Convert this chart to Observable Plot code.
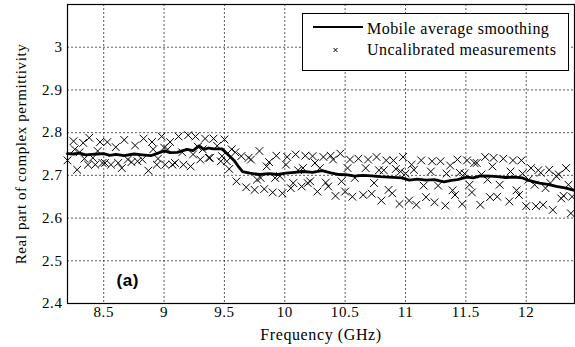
<!DOCTYPE html>
<html><head><meta charset="utf-8">
<script src="https://cdn.jsdelivr.net/npm/d3@7"></script>
<script src="https://cdn.jsdelivr.net/npm/@observablehq/plot@0.6"></script>
<style>
body{margin:0;background:#fff;}
#wrap{position:relative;width:575px;height:347px;overflow:hidden;}
#legend{position:absolute;left:302px;top:13px;width:267px;height:58px;border:1px solid #000;background:#fff;box-sizing:border-box;font-family:'Liberation Serif',serif;font-size:16px;letter-spacing:0.45px;color:#000;}
#legend .row{position:absolute;left:0;height:20px;line-height:20px;white-space:nowrap;}
#legend svg{position:absolute;left:0;top:0;}
#legend span{position:absolute;left:64px;top:0;}
</style></head><body><div id="wrap"></div>
<script>
// Uncalibrated measurements (frequency in GHz, real part of permittivity)
const measFreq = [8.20,8.25,8.26,8.28,8.30,8.33,8.34,8.37,8.38,8.41,8.43,8.45,8.47,8.49,8.51,8.53,8.56,8.60,8.62,8.65,8.67,8.70,8.73,8.76,8.78,8.82,8.83,8.87,
8.90,8.91,8.94,8.95,8.98,9.00,9.01,9.03,9.05,9.07,9.09,9.12,9.15,9.16,9.20,9.22,9.24,9.26,9.28,9.30,9.32,9.34,9.37,9.38,9.41,9.44,9.47,9.48,9.50,9.52,9.54,9.56,9.59,9.60,
9.64,9.68,9.70,9.72,9.75,9.77,9.79,9.80,9.83,9.85,9.87,9.90,9.92,9.93,9.96,9.98,10.01,10.02,10.05,10.07,10.09,10.11,10.14,10.15,10.17,10.19,10.21,10.23,10.25,10.27,10.29,
10.32,10.34,10.36,10.38,10.40,10.42,10.46,10.47,10.50,10.52,10.54,10.56,10.58,10.61,10.65,10.67,10.69,10.72,10.74,10.76,10.78,10.80,10.82,10.84,10.86,10.89,10.90,10.92,10.95,10.96,10.98,11.00,
11.03,11.05,11.07,11.09,11.13,11.15,11.17,11.21,11.22,11.24,11.27,11.29,11.33,11.34,11.37,11.39,11.41,11.43,11.45,11.47,11.49,11.51,11.53,11.55,11.57,11.59,11.62,11.63,11.66,11.68,11.70,11.72,11.73,
11.76,11.78,11.81,11.86,11.87,11.89,11.92,11.94,11.96,11.97,12.00,12.02,12.04,12.07,12.08,12.10,12.12,12.14,12.16,12.19,12.20,12.22,12.25,12.27,12.29,12.31,12.33,12.35,12.37,12.38];
const measVal = [2.735,2.780,2.761,2.713,2.754,2.776,2.739,2.725,2.788,2.741,2.725,2.757,2.778,2.729,2.729,2.778,2.725,2.766,2.729,2.717,2.783,2.737,2.731,2.770,2.733,2.737,2.786,2.711,
2.778,2.761,2.725,2.739,2.791,2.765,2.725,2.761,2.778,2.725,2.729,2.791,2.754,2.725,2.794,2.721,2.749,2.791,2.767,2.737,2.761,2.786,2.741,2.741,2.786,2.769,2.733,2.745,2.784,2.733,2.715,2.761,2.754,2.686,
2.745,2.672,2.741,2.737,2.666,2.690,2.757,2.694,2.668,2.721,2.731,2.660,2.694,2.746,2.698,2.658,2.725,2.743,2.670,2.682,2.749,2.712,2.674,2.717,2.746,2.682,2.686,2.745,2.729,2.662,2.717,
2.743,2.683,2.674,2.746,2.737,2.652,2.751,2.686,2.662,2.717,2.737,2.650,2.694,2.739,2.654,2.717,2.737,2.657,2.682,2.743,2.712,2.641,2.712,2.735,2.666,2.658,2.735,2.715,2.633,2.709,2.743,2.704,
2.641,2.725,2.713,2.631,2.735,2.676,2.649,2.709,2.733,2.637,2.676,2.733,2.629,2.704,2.723,2.665,2.654,2.737,2.706,2.633,2.704,2.735,2.678,2.660,2.729,2.729,2.631,2.702,2.743,2.690,2.649,2.721,2.741,
2.650,2.678,2.739,2.639,2.709,2.735,2.665,2.654,2.735,2.704,2.628,2.690,2.717,2.678,2.628,2.712,2.706,2.631,2.670,2.713,2.682,2.619,2.698,2.702,2.646,2.652,2.717,2.678,2.611,2.650];

// Mobile average smoothing
const smoothFreq = [8.20,8.25,8.30,8.35,8.40,8.45,8.50,8.55,8.60,8.67,8.75,8.82,8.89,8.95,9.00,9.05,9.11,9.19,9.24,9.29,9.33,9.37,9.41,9.48,9.52,9.58,9.61,9.65,9.71,9.79,9.87,9.94,10.01,10.08,10.15,10.23,10.31,10.38,10.45,10.52,10.58,10.65,10.72,10.79,10.86,10.97,11.03,11.10,11.17,11.24,11.32,11.38,11.43,11.51,11.56,11.62,11.70,11.76,11.83,11.90,11.97,12.02,12.11,12.18,12.25,12.33,12.40];
const smoothVal  = [2.751,2.750,2.752,2.748,2.749,2.750,2.751,2.747,2.749,2.746,2.750,2.748,2.746,2.752,2.757,2.753,2.754,2.761,2.758,2.769,2.761,2.764,2.762,2.762,2.751,2.735,2.723,2.709,2.705,2.702,2.704,2.702,2.705,2.707,2.709,2.707,2.711,2.706,2.702,2.701,2.698,2.700,2.699,2.697,2.696,2.694,2.689,2.691,2.689,2.690,2.685,2.688,2.690,2.696,2.694,2.699,2.698,2.697,2.695,2.696,2.694,2.688,2.682,2.679,2.674,2.670,2.665];

const xTicks = [8.5,9,9.5,10,10.5,11,11.5,12];
const xTickLabels = ["8.5","9","9.5","10","10.5","11","11.5","12"];
const yTicks = [2.4,2.5,2.6,2.7,2.8,2.9,3.0];
const yTickLabels = ["2.4","2.5","2.6","2.7","2.8","2.9","3"];
const xLabel = "Frequency (GHz)";
const yLabel = "Real part of complex permittivity";
const seriesNames = ["Mobile average smoothing","Uncalibrated measurements"];
const panelTag = "(a)";

const meas = measFreq.map((f,i)=>({f, v: measVal[i]}));
const smooth = smoothFreq.map((f,i)=>({f, v: smoothVal[i]}));

const serif = "'Liberation Serif', serif";
const grid = {stroke:"#333", strokeOpacity:0.8, strokeWidth:1, strokeDasharray:"2,2"};

const chart = Plot.plot({
  width:575, height:347,
  marginLeft:67, marginRight:1, marginTop:4, marginBottom:44,
  style:{fontFamily:serif, fontSize:"15px", letterSpacing:"0.6px", background:"#fff", color:"#000"},
  x:{domain:[8.2,12.4]},
  y:{domain:[2.4,3.1]},
  marks:[
    Plot.gridX(xTicks, grid),
    Plot.gridY(yTicks.slice(1), grid),
    Plot.dot(meas,{x:"f", y:"v", symbol:"times", r:3.6, stroke:"#000", strokeWidth:1}),
    Plot.line(smooth,{x:"f", y:"v", stroke:"#000", strokeWidth:2.8, curve:"linear"}),
    Plot.frame({stroke:"#000", strokeWidth:1.2}),
    Plot.axisX(xTicks,{tickSize:0, tickPadding:3, tickFormat:(d,i)=>xTickLabels[i], label:xLabel, labelAnchor:"center", labelArrow:"none", labelOffset:36, fontSize:15, fontFamily:serif}),
    Plot.axisY(yTicks,{tickSize:0, tickPadding:5, tickFormat:(d,i)=>yTickLabels[i], label:yLabel, labelAnchor:"center", labelArrow:"none", labelOffset:52, fontSize:15, fontFamily:serif}),
    Plot.text([panelTag],{frameAnchor:"bottom-left", dx:49, dy:-18, text:d=>d, fontFamily:"'Liberation Sans', sans-serif", fontWeight:"bold", fontSize:17, fill:"#000"})
  ]
});
// x-axis title slightly larger than tick labels
chart.querySelectorAll("[aria-label='x-axis label'] text").forEach(t=>t.setAttribute("font-size","16"));
const wrap = document.getElementById("wrap");
wrap.appendChild(chart);

const leg = document.createElement("div");
leg.id = "legend";
leg.innerHTML = `
<div class="row" style="top:5px;width:265px;"><svg width="64" height="20"><line x1="10" x2="60" y1="8" y2="8" stroke="#000" stroke-width="2"/></svg><span>${seriesNames[0]}</span></div>
<div class="row" style="top:26px;width:265px;"><svg width="64" height="20"><path d="M30.5,8L34.5,12M34.5,8L30.5,12" stroke="#000" stroke-width="1"/></svg><span>${seriesNames[1]}</span></div>`;
wrap.appendChild(leg);
</script>
</body></html>
